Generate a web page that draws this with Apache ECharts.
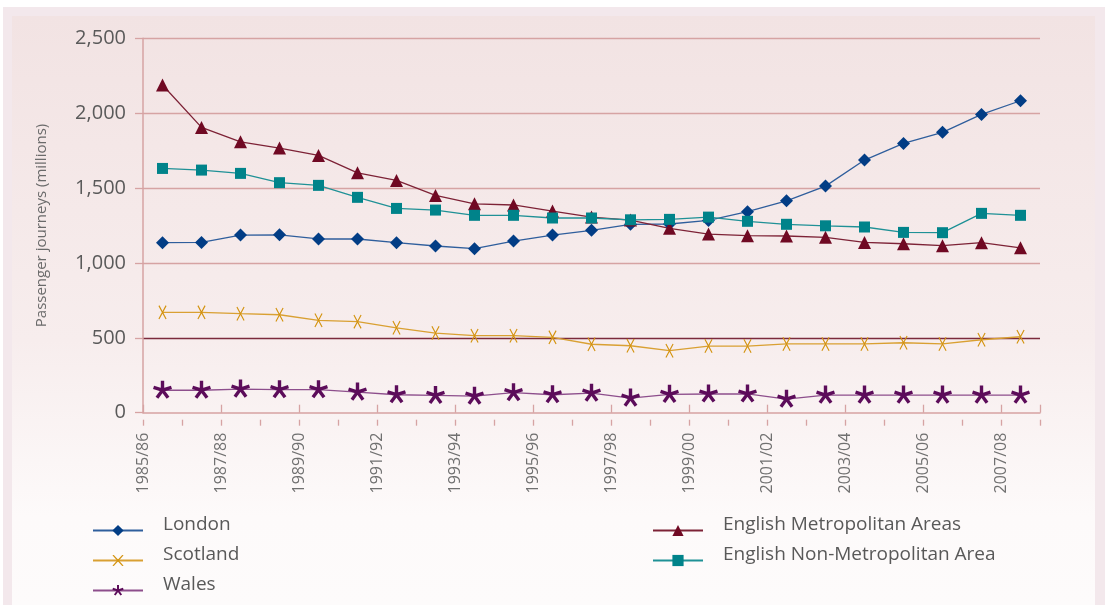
<!DOCTYPE html>
<html>
<head>
<meta charset="utf-8">
<script src="https://cdn.jsdelivr.net/npm/echarts@6/dist/echarts.min.js"></script>
<style>
  html, body { margin: 0; padding: 0; background: #ffffff; }
  #frame { position: absolute; left: 3px; top: 7px; width: 1102px; height: 598px; background: #f3e8ec; }
  #panel { position: absolute; left: 12px; top: 16px; width: 1083px; height: 589px;
           background: linear-gradient(to bottom, #f2e3e3 0%, #f7eded 55%, #fdfafa 85%, #fdfbfb 100%); }
  #chart { position: absolute; left: 0; top: 0; width: 1105px; height: 605px; }
</style>
</head>
<body>
<div id="frame"></div>
<div id="panel"></div>
<div id="chart"></div>
<script>
// ---- Data ----
const categories = ['1985/86','1986/87','1987/88','1988/89','1989/90','1990/91','1991/92','1992/93',
  '1993/94','1994/95','1995/96','1996/97','1997/98','1998/99','1999/00','2000/01','2001/02','2002/03',
  '2003/04','2004/05','2005/06','2006/07','2007/08'];
const london = [1135,1137,1186,1188,1160,1160,1135,1113,1095,1146,1186,1218,1258,1260,1284,1342,1415,1513,1687,1798,1872,1992,2083];
const scotland = [670,670,661,654,617,608,567,532,514,514,503,457,447,414,445,445,459,459,459,467,459,487,507];
const wales = [150,150,158,154,154,138,120,116,111,134,120,131,98,123,125,125,91,118,118,118,118,118,118];
const englishMet = [2188,1905,1809,1767,1718,1602,1551,1451,1395,1387,1346,1306,1286,1231,1193,1182,1180,1171,1137,1128,1115,1135,1101];
const englishNonMet = [1631,1620,1598,1536,1518,1438,1364,1353,1318,1318,1300,1300,1288,1291,1306,1278,1258,1248,1240,1204,1202,1331,1318];
const yTicks = { min: 0, max: 2500, interval: 500 };
const legendLeftNames = ['London', 'Scotland', 'Wales'];
const legendRightNames = ['English Metropolitan Areas', 'English Non-Metropolitan Area'];

// ---- Symbol shapes (stroke arms as filled rectangles) ----
function armsPath(angles, r, w, padBottom) {
  const cx = r, cy = r;
  let p = '';
  angles.forEach(function (a) {
    const rad = a * Math.PI / 180;
    const dx = Math.cos(rad), dy = -Math.sin(rad);
    const nx = -dy, ny = dx;
    const pts = [
      [cx + nx * w, cy + ny * w],
      [cx + dx * r + nx * w, cy + dy * r + ny * w],
      [cx + dx * r - nx * w, cy + dy * r - ny * w],
      [cx - nx * w, cy - ny * w]
    ];
    p += 'M' + pts.map(function (q) { return q[0].toFixed(2) + ',' + q[1].toFixed(2); }).join('L') + 'Z';
  });
  if (padBottom) {
    p += 'M' + (cx - 0.01) + ',' + (cy + r) + 'L' + (cx + 0.01) + ',' + (cy + r) + 'L' + cx + ',' + (cy + r - 0.01) + 'Z';
  }
  return 'path://' + p;
}
const xSymbol = armsPath([62, 118, 242, 298], 10, 0.75, false);
const starSymbol = armsPath([90, 18, -54, -126, 162], 10, 1.8, true);

const fontFamily = '"Open Sans", "Noto Sans", sans-serif';
const gridColor = '#d6a3a3';

function lineSeries(name, data, color, lineColor, symbol, size, keep) {
  return {
    name: name, type: 'line', data: data,
    xAxisIndex: 0, yAxisIndex: 0,
    symbol: symbol, symbolSize: size, symbolKeepAspect: !!keep,
    showAllSymbol: true,
    itemStyle: { color: color },
    lineStyle: { color: lineColor, width: 1.3 },
    emphasis: { disabled: true },
    z: 3
  };
}

function makeLegend(names, left, top, iconsVisible, textVisible) {
  const lg = {
    data: names,
    orient: 'vertical', left: left, top: top, padding: 0,
    itemWidth: 50, itemHeight: 14, itemGap: 11,
    textStyle: {
      fontSize: 19, color: textVisible ? '#595959' : 'rgba(0,0,0,0)',
      lineHeight: 18, padding: [0, 0, 0, 15], fontFamily: fontFamily
    },
    selectedMode: false
  };
  if (!iconsVisible) {
    lg.itemStyle = { opacity: 0 };
    lg.lineStyle = { opacity: 0 };
  }
  return lg;
}

const chart = echarts.init(document.getElementById('chart'), null, { renderer: 'canvas' });
chart.setOption({
  animation: false,
  backgroundColor: 'transparent',
  textStyle: { fontFamily: fontFamily },
  grid: { left: 143, right: 65, top: 38.3, bottom: 192.3, containLabel: false },
  xAxis: [
    {
      type: 'category', data: categories, boundaryGap: true, position: 'bottom', offset: 7,
      axisLine: { show: true, lineStyle: { color: gridColor, width: 1.5 } },
      axisTick: { show: true, inside: true, length: 8, lineStyle: { color: gridColor, width: 1.3 } },
      axisLabel: { show: false },
      splitLine: { show: false }
    },
    {
      type: 'category', data: categories.concat(['']), boundaryGap: false, position: 'bottom', offset: 7,
      axisLine: { show: false },
      axisTick: { show: true, inside: false, length: 6, interval: 0, lineStyle: { color: gridColor, width: 1.3 } },
      axisLabel: {
        show: true, rotate: 90, margin: 13, fontSize: 16, color: '#707070', fontFamily: fontFamily,
        interval: function (i) { return i % 2 === 0 && i < categories.length; }
      },
      splitLine: { show: false }
    }
  ],
  yAxis: {
    type: 'value', min: yTicks.min, max: yTicks.max, interval: yTicks.interval,
    name: 'Passenger journeys (millions)', nameLocation: 'middle', nameGap: 94,
    nameTextStyle: { fontSize: 15, color: '#6a6a6a', fontFamily: fontFamily },
    axisLine: { show: true, lineStyle: { color: gridColor, width: 1.5 } },
    axisTick: { show: true, inside: false, length: 8, lineStyle: { color: gridColor, width: 1.3 } },
    axisLabel: {
      fontSize: 20, color: '#5a5a5a', margin: 17, fontFamily: fontFamily,
      formatter: function (v) { return v.toLocaleString('en-US'); }
    },
    splitLine: {
      show: true,
      lineStyle: { color: ['rgba(0,0,0,0)', '#7b2a3c', gridColor, gridColor, gridColor, gridColor], width: 1.3 }
    }
  },
  legend: [
    makeLegend(legendLeftNames, 92, 521, true, false),
    makeLegend(legendLeftNames, 92, 515, false, true),
    makeLegend(legendRightNames, 652, 521, true, false),
    makeLegend(legendRightNames, 652, 515, false, true)
  ],
  series: [
    lineSeries('London', london, '#023d85', '#2f5e9c', 'diamond', 13, false),
    lineSeries('Scotland', scotland, '#d4930f', '#d9a032', xSymbol, 14, true),
    lineSeries('Wales', wales, '#5c0c5a', '#8d4e8c', starSymbol, 19, true),
    lineSeries('English Metropolitan Areas', englishMet, '#700923', '#7d2236', 'triangle', 13, false),
    lineSeries('English Non-Metropolitan Area', englishNonMet, '#00838a', '#1f9196', 'rect', 11, false)
  ]
});
</script>
</body>
</html>
